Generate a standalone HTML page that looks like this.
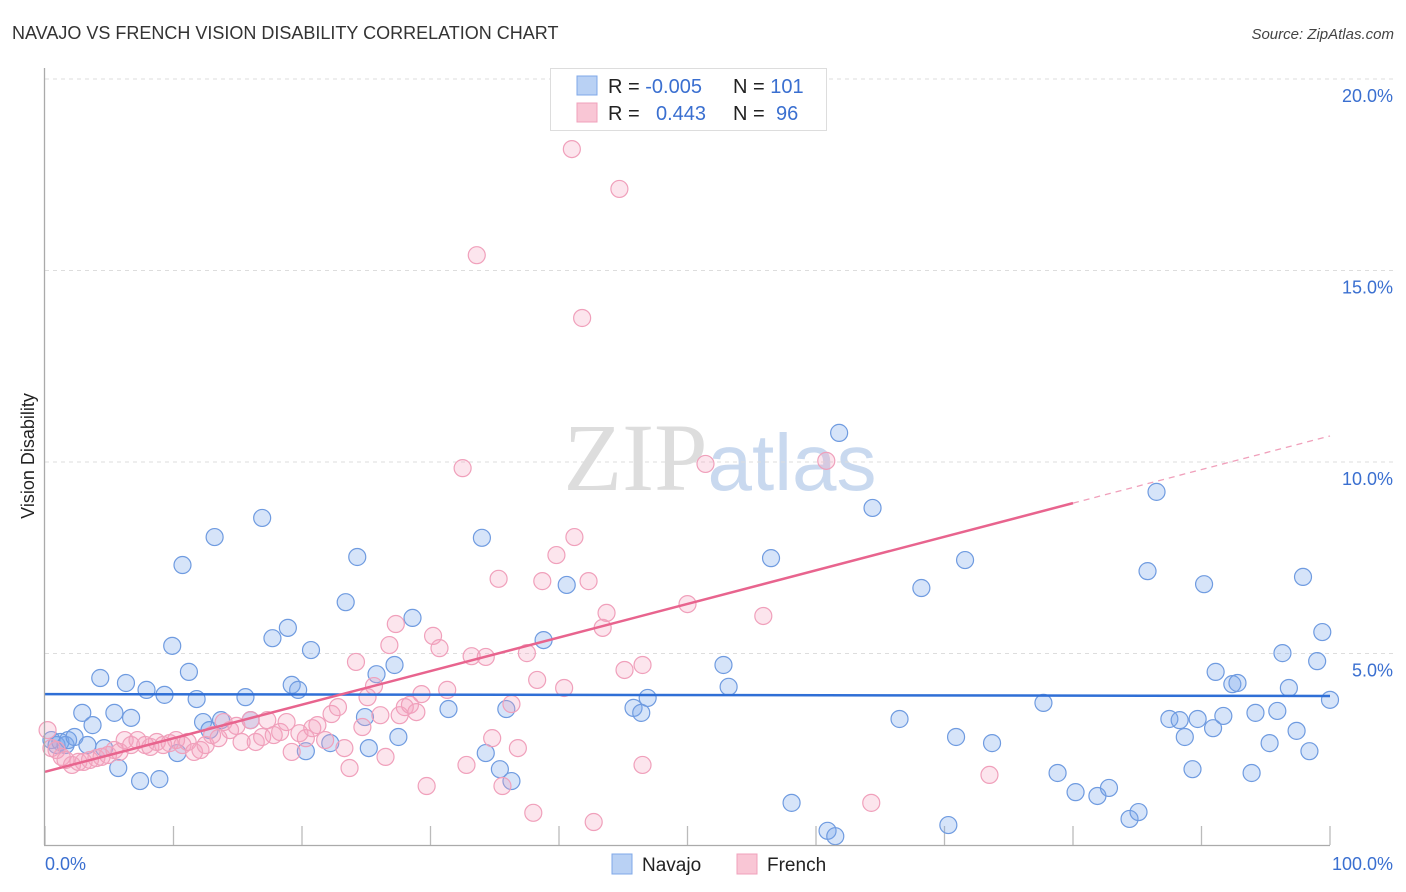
<!DOCTYPE html>
<html><head><meta charset="utf-8"><style>
body{margin:0;background:#fff;font-family:"Liberation Sans",sans-serif;}
svg{display:block}
</style></head><body>
<svg id="chart" width="1406" height="892" xmlns="http://www.w3.org/2000/svg">
<text x="12" y="39" font-size="18" fill="#333" font-family="Liberation Sans, sans-serif">NAVAJO VS FRENCH VISION DISABILITY CORRELATION CHART</text>
<text x="1394" y="39" font-size="15" fill="#444" text-anchor="end" font-style="italic">Source: ZipAtlas.com</text>
<text x="720" y="490" font-size="96" text-anchor="middle"><tspan fill="#ddd" font-family="Liberation Serif, serif">ZIP</tspan><tspan fill="#c9d9ef" font-family="Liberation Sans, sans-serif" font-size="80">atlas</tspan></text>
<text transform="translate(34,456) rotate(-90)" font-size="18" fill="#222" text-anchor="middle">Vision Disability</text>
<g id="grid"></g>
<g id="ticks"></g>
<g id="pts"></g>
<g id="lines"></g>
<line x1="44.5" y1="68" x2="44.5" y2="845" stroke="#aaa" stroke-width="1.3"/>
<line x1="44" y1="845.5" x2="1330" y2="845.5" stroke="#aaa" stroke-width="1.3"/>
<text x="45" y="870" font-size="18" fill="#3a6fd0">0.0%</text>
<text x="1393" y="870" font-size="18" fill="#3a6fd0" text-anchor="end">100.0%</text>
<g>
<rect x="550.5" y="68.5" width="276" height="62" fill="#fff" stroke="#ddd"/>
<rect x="577" y="76" width="20" height="19" fill="#b9d1f4" stroke="#7fa8e8"/>
<rect x="577" y="103" width="20" height="19" fill="#f9c6d5" stroke="#f0a0bb"/>
<text x="608" y="93" font-size="20" fill="#222">R = <tspan fill="#3a6fd0">-0.005</tspan></text>
<text x="733" y="93" font-size="20" fill="#222">N = <tspan fill="#3a6fd0">101</tspan></text>
<text x="608" y="120" font-size="20" fill="#222">R = <tspan fill="#3a6fd0" x="656">0.443</tspan></text>
<text x="733" y="120" font-size="20" fill="#222">N = <tspan fill="#3a6fd0" x="776">96</tspan></text>
</g>
<g>
<rect x="612" y="854" width="20" height="20" fill="#b9d1f4" stroke="#7fa8e8"/>
<text x="642" y="871" font-size="19" fill="#222">Navajo</text>
<rect x="737" y="854" width="20" height="20" fill="#f9c6d5" stroke="#f0a0bb"/>
<text x="767" y="871" font-size="19" fill="#222">French</text>
</g>
</svg>
<script>
const yTicks=[5,10,15,20];
const yTickLabels=["5.0%","10.0%","15.0%","20.0%"];
const xTicks=[0,10,20,30,40,50,60,70,80,90,100];
const navajoX=[0.5,0.9,1.2,1.6,1.8,2.3,2.9,3.3,3.7,4.3,4.6,5.4,5.7,6.3,6.7,7.4,7.9,8.9,9.3,9.9,10.3,10.7,11.2,11.8,12.3,12.8,13.2,13.7,15.6,16.0,16.9,17.7,18.9,19.2,19.7,20.3,20.7,22.2,23.4,24.3,24.9,25.2,25.8,27.2,27.5,28.6,31.4,34.0,34.3,35.4,35.9,36.3,38.8,40.6,45.8,46.4,46.9,52.8,53.2,56.5,58.1,60.9,61.5,61.8,64.4,66.5,68.2,70.3,70.9,71.6,73.7,77.7,78.8,80.2,81.9,82.8,84.4,85.1,85.8,86.5,87.5,88.3,88.7,89.3,89.7,90.2,90.9,91.1,91.7,92.4,92.8,93.9,94.2,95.3,95.9,96.3,96.8,97.4,97.9,98.4,99.0,99.4,100.0];
const navajoY=[2.74,2.61,2.69,2.61,2.74,2.82,3.45,2.61,3.13,4.36,2.53,3.45,2.01,4.23,3.32,1.67,4.05,1.72,3.92,5.2,2.4,7.31,4.52,3.81,3.21,3.0,8.04,3.26,3.86,3.26,8.54,5.4,5.67,4.18,4.05,2.45,5.09,2.66,6.34,7.52,3.34,2.53,4.46,4.7,2.82,5.93,3.55,8.02,2.4,1.98,3.55,1.67,5.35,6.79,3.58,3.45,3.84,4.7,4.13,7.49,1.1,0.37,0.23,10.76,8.8,3.29,6.71,0.52,2.82,7.44,2.66,3.71,1.88,1.38,1.28,1.49,0.68,0.86,7.15,9.22,3.29,3.26,2.82,1.98,3.29,6.81,3.05,4.52,3.37,4.2,4.23,1.88,3.45,2.66,3.5,5.01,4.1,2.98,7.0,2.45,4.8,5.56,3.79];
const frenchX=[0.2,0.5,0.9,1.3,1.6,2.1,2.6,3.0,3.5,4.0,4.4,4.9,5.4,5.8,6.2,6.7,7.2,7.8,8.2,8.7,9.2,9.7,10.2,10.7,11.1,11.6,12.1,12.5,13.0,13.5,13.9,14.4,14.9,15.3,16.0,16.4,16.9,17.3,17.8,18.3,18.8,19.2,19.8,20.3,20.8,21.2,21.8,22.3,22.8,23.3,23.7,24.2,24.7,25.1,25.6,26.1,26.5,26.8,27.3,27.6,28.0,28.4,28.9,29.3,29.7,30.2,30.7,31.3,32.5,32.8,33.2,33.6,34.3,34.8,35.3,35.6,36.3,36.8,37.5,38.0,38.3,38.7,39.8,40.4,41.0,41.2,41.8,42.3,42.7,43.4,43.7,44.7,45.1,46.5,46.5,50.0,51.4,55.9,60.8,64.3,73.5];
const frenchY=[3.0,2.53,2.48,2.3,2.22,2.09,2.17,2.17,2.22,2.27,2.3,2.35,2.48,2.43,2.74,2.61,2.74,2.61,2.56,2.69,2.61,2.66,2.74,2.61,2.69,2.43,2.48,2.61,2.87,2.79,3.21,3.0,3.11,2.69,3.26,2.69,2.82,3.26,2.87,2.95,3.21,2.43,2.92,2.79,3.05,3.13,2.74,3.42,3.6,2.53,2.01,4.78,3.08,3.86,4.15,3.39,2.3,5.22,5.77,3.39,3.6,3.66,3.47,3.94,1.54,5.46,5.14,4.05,9.84,2.09,4.93,15.4,4.91,2.79,6.95,1.54,3.68,2.53,5.01,0.84,4.31,6.89,7.57,4.1,18.17,8.04,13.76,6.89,0.6,5.67,6.06,17.13,4.57,4.7,2.09,6.29,9.95,5.98,10.03,1.1,1.83];
const navajoFit=[3.94,3.89];
const frenchFit=[1.91,10.68];
const frenchSolidEnd=80;

const NS="http://www.w3.org/2000/svg";
const X0=45,X1=1330,Y0=845,YPER=38.3;
function sx(v){return X0+(X1-X0)*v/100;}
function sy(v){return Y0-v*YPER;}
function mk(tag,attrs,parent){const e=document.createElementNS(NS,tag);for(const k in attrs)e.setAttribute(k,attrs[k]);parent.appendChild(e);return e;}
const grid=document.getElementById('grid'),ticks=document.getElementById('ticks'),pts=document.getElementById('pts'),lines=document.getElementById('lines');
yTicks.forEach((t,i)=>{
  const l=mk('line',{x1:45,x2:1395,y1:sy(t),y2:sy(t),stroke:'#ddd','stroke-dasharray':'4,4'},grid);
  
  
  const tx=mk('text',{x:1393,y:sy(t)+23,'font-size':18,fill:'#3a6fd0','text-anchor':'end'},grid);
  tx.textContent=yTickLabels[i];
  
  
});
xTicks.forEach(t=>{
  const l=mk('line',{x1:sx(t),x2:sx(t),y1:826,y2:845,stroke:'#bbb','stroke-width':1.3},ticks);
  
  
});
navajoX.forEach((x,i)=>{
  const c=mk('circle',{cx:sx(x),cy:sy(navajoY[i]),r:8.5,fill:'rgba(120,165,235,0.3)',stroke:'#6f9be0','stroke-width':1.2},pts);
  
  
});
frenchX.forEach((x,i)=>{
  const c=mk('circle',{cx:sx(x),cy:sy(frenchY[i]),r:8.5,fill:'rgba(245,160,190,0.28)',stroke:'#f0a0bb','stroke-width':1.2},pts);
  
  
});
const nl=mk('line',{x1:sx(0),y1:sy(navajoFit[0]),x2:sx(100),y2:sy(navajoFit[1]),stroke:'#2f6fd6','stroke-width':2.5},lines);


const fm=frenchFit[0]+(frenchFit[1]-frenchFit[0])*frenchSolidEnd/100;
const fl=mk('line',{x1:sx(0),y1:sy(frenchFit[0]),x2:sx(frenchSolidEnd),y2:sy(fm),stroke:'#e8648e','stroke-width':2.5},lines);


const fd=mk('line',{x1:sx(frenchSolidEnd),y1:sy(fm),x2:sx(100),y2:sy(frenchFit[1]),stroke:'#f0a0bb','stroke-width':1.3,'stroke-dasharray':'6,5'},lines);


</script>
</body></html>
